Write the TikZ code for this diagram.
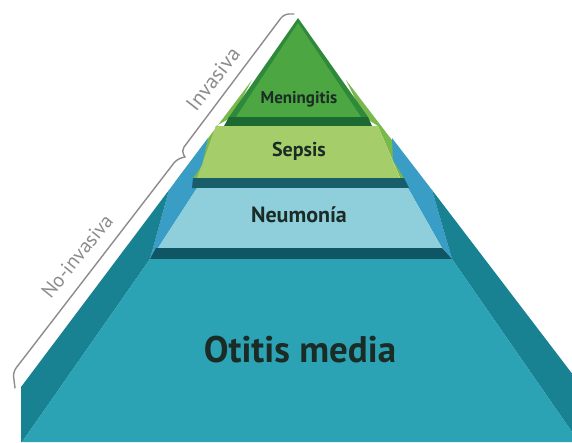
\documentclass[tikz,border=0pt]{standalone}
\usepackage{fontspec}
\setmainfont{PT Sans}
\definecolor{mfront}{HTML}{4CA642}
\definecolor{mside}{HTML}{2E8A3A}
\definecolor{mband}{HTML}{1C6A32}
\definecolor{sfront}{HTML}{A5CE6A}
\definecolor{sside}{HTML}{79B84B}
\definecolor{sband}{HTML}{175E6A}
\definecolor{nfront}{HTML}{8ECFDB}
\definecolor{nside}{HTML}{3A9DC6}
\definecolor{nband}{HTML}{0F5563}
\definecolor{ofront}{HTML}{2BA3B4}
\definecolor{oside}{HTML}{188292}
\definecolor{txt}{HTML}{1B2B26}
\definecolor{brk}{HTML}{8C8C8C}
\tikzset{
  lbl/.style={text=txt, inner sep=0pt, anchor=center},
  sidelbl/.style={text=brk, inner sep=0pt, anchor=center},
  bracket/.style={draw=brk, line width=1.4pt, rounded corners=5pt, line cap=round}
}
\begin{document}
\begin{tikzpicture}[x=1pt,y=-1pt]
\useasboundingbox (0,0) rectangle (572,442);
\fill[white] (0,0) rectangle (572,442);
\begin{scope}
\clip (0,0) rectangle (572,442);
% Sepsis side faces
\fill[sside] (252,80) -- (175,182) -- (197,182) -- (216,126) -- (232,117) -- cycle;
\fill[sside] (346,80) -- (424,182) -- (402,182) -- (378,126) -- (364,117) -- cycle;
% Meningitis
\fill[mside] (298,18) -- (229,117) -- (368,117) -- cycle;
\fill[mfront] (298,23) -- (236,117) -- (361,117) -- cycle;
\fill[mband] (229,117) -- (368,117) -- (372,126) -- (224,126) -- cycle;
% Sepsis front
\fill[sfront] (216,126) -- (378,126) -- (400,178) -- (197,178) -- cycle;
% Neumonia side faces
\fill[nside] (208,138) -- (169,190) -- (150,259) -- (158,248) -- (197,188) -- (193,178) -- (202,165) -- cycle;
\fill[nside] (392,138) -- (432,190) -- (452,259) -- (442,248) -- (408,188) -- (404,178) -- (393,160) -- cycle;
\fill[sband] (193,178) -- (404,178) -- (409,188) -- (192,188) -- cycle;
% Neumonia front
\fill[nfront] (197,188) -- (408,188) -- (442,248) -- (158,248) -- cycle;
% Otitis side faces
\fill[oside] (169,190) -- (21,387) -- (21,442) -- (22,442) -- (150,259) -- cycle;
\fill[oside] (432,190) -- (580,384) -- (580,442) -- (572,442) -- (572,432) -- (452,259) -- cycle;
\fill[nband] (156,248) -- (442,248) -- (452,259) -- (150,259) -- cycle;
% Otitis front
\fill[ofront] (150,259) -- (452,259) -- (572,432) -- (572,442) -- (22,442) -- cycle;
\end{scope}
% labels
\node[lbl, font=\bfseries\fontsize{17}{17}\selectfont] (men) at (299,99) {Meningitis};
\node[lbl, font=\bfseries\fontsize{20}{20}\selectfont] (sep) at (299,151) {Sepsis};
\node[lbl, font=\bfseries\fontsize{22}{22}\selectfont] (neu) at (299,215) {Neumonía};
\node[lbl, font=\bfseries\fontsize{37}{37}\selectfont] (oti) at (300,350) {Otitis media};
% brackets
\coordinate (bi1) at (294,14);
\coordinate (bi2) at (284,14);
\coordinate (bi3) at (181,151);
\coordinate (bj) at (185,157);
\coordinate (bn1) at (177,159);
\coordinate (bn2) at (13,372);
\coordinate (bn3) at (15,388);
\draw[bracket] (bi1) -- (bi2) -- (bi3) -- (bj);
\draw[bracket] (bj) -- (bn1) -- (bn2) -- (bn3);
\node[sidelbl, rotate=52, font=\fontsize{21}{21}\selectfont] (inv) at (213,79) {Invasiva};
\node[sidelbl, rotate=51, font=\fontsize{20}{20}\selectfont] (noinv) at (77,256) {No-invasiva};
\end{tikzpicture}
\end{document}
